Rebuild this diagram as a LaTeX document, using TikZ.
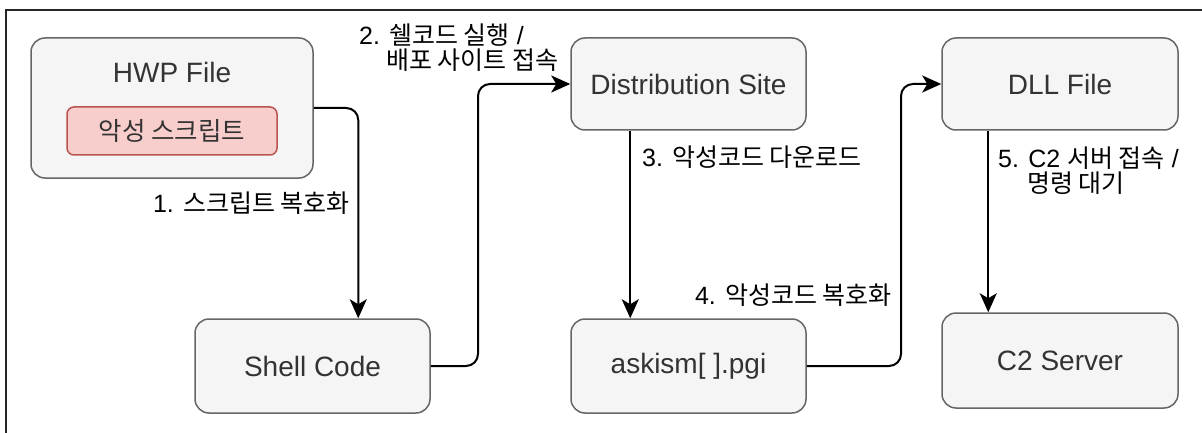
\documentclass[tikz,border=0pt]{standalone}
\usepackage{fontspec}
\setmainfont{Liberation Sans}
\newfontfamily\krfont{Noto Sans CJK KR}
\newcommand\kr[1]{{\krfont #1}}
\usetikzlibrary{arrows.meta}
\definecolor{boxfill}{HTML}{F5F5F5}
\definecolor{boxline}{HTML}{666666}
\definecolor{boxtext}{HTML}{333333}
\definecolor{redfill}{HTML}{F8CECC}
\definecolor{redline}{HTML}{B85450}
\tikzset{
  box/.style={draw=boxline, fill=boxfill, line width=1.5pt, rounded corners=14pt,
    text=boxtext, font=\fontsize{28}{30}\selectfont, inner sep=0pt},
  redbox/.style={draw=redline, fill=redfill, line width=1.5pt, rounded corners=7pt,
    text=boxtext, font=\fontsize{25.5}{27}\selectfont, inner sep=0pt},
  arr/.style={line width=2pt, rounded corners=12pt,
    -{Stealth[length=19pt,width=17pt,inset=5pt]}},
  lbl/.style={font=\fontsize{25}{25}\selectfont, inner sep=0pt, text=black, align=left},
}
\begin{document}
\begin{tikzpicture}[x=1pt,y=-1pt]
\useasboundingbox (0,0) rectangle (1202,433);
\fill[white] (0,0) rectangle (1202,433);
% outer frame (cut by the picture edge)
\draw[line width=2pt, color=black!85] (6,445) -- (6,10) -- (1215,10);

% nodes
\node[box, minimum width=282pt, minimum height=140pt] (hwp) at (172,108) {};
\node[text=boxtext, font=\fontsize{28}{30}\selectfont] (hwpt) at (172,72) {HWP File};
\node[redbox, minimum width=210pt, minimum height=48pt] (red) at (172,131) {\kr{악성 스크립트}};
\node[box, minimum width=235pt, minimum height=92pt] (dist) at (688.5,84) {Distribution Site};
\node[box, minimum width=236pt, minimum height=92pt] (dll) at (1060,84) {DLL File};
\node[box, minimum width=235pt, minimum height=94pt] (shell) at (312.5,366) {Shell Code};
\node[box, minimum width=235pt, minimum height=94pt] (ask) at (688.5,366) {askism[ ].pgi};
\node[box, minimum width=236pt, minimum height=95pt] (c2) at (1060,360.5) {C2 Server};

% connectors
\draw[arr] (hwp.east |- 0,108) -| ([xshift=164pt]shell.north west);
\draw[arr] (shell.east) -- (478,366) |- (dist.west);
\draw[arr] ([xshift=60pt]dist.south west) -- ([xshift=60pt]ask.north west);
\draw[arr] (ask.east) -- (901,366) |- (dll.west);
\draw[arr] ([xshift=47pt]dll.south west) -- ([xshift=47pt]c2.north west);

% labels
\node[lbl, anchor=east] (l1) at (350,203) {1. \kr{스크립트 복호화}};
\node[lbl, anchor=west] (l2) at (359,47.5) {2. \kr{쉘코드 실행} /\\\hspace{27pt}\kr{배포 사이트 접속}};
\node[lbl, anchor=west] (l3) at (642,157) {3. \kr{악성코드 다운로드}};
\node[lbl, anchor=east] (l4) at (892,295) {4. \kr{악성코드 복호화}};
\node[lbl, anchor=west] (l5) at (998,171) {5. C2 \kr{서버 접속} /\\\hspace{29pt}\kr{명령 대기}};
\end{tikzpicture}
\end{document}
